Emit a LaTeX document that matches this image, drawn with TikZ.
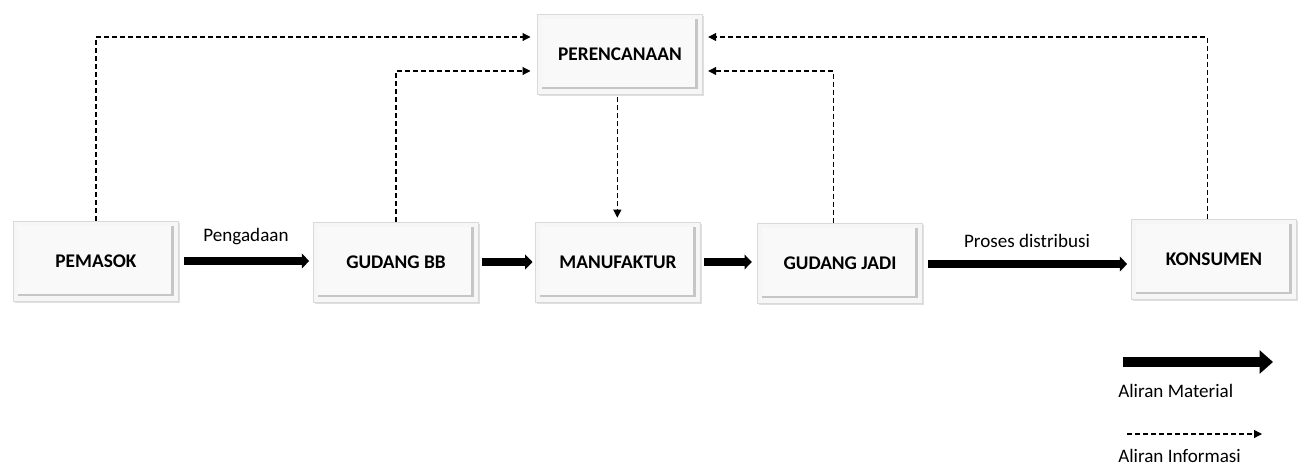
\documentclass[tikz,border=0pt]{standalone}
\usepackage{fontspec}
\setmainfont{Carlito}
\usetikzlibrary{arrows.meta,shadows,calc}
\begin{document}
\begin{tikzpicture}[x=0.75pt,y=-0.75pt,
  bx/.style={draw=gray!30, fill=gray!7, line width=0.5pt,
    minimum width=123.75pt, minimum height=60pt, inner sep=0pt,
    font=\bfseries\fontsize{14.5}{17}\selectfont,
    drop shadow={opacity=0.25, shadow xshift=1.2pt, shadow yshift=-1.5pt},
    path picture={
      \fill[gray!45] ([shift={(3.5pt,3.5pt)}]path picture bounding box.south west) rectangle ([shift={(-3.5pt,-3.5pt)}]path picture bounding box.north east);
      \fill[gray!5] ([shift={(3.5pt,5.5pt)}]path picture bounding box.south west) rectangle ([shift={(-5.5pt,-3.5pt)}]path picture bounding box.north east);
    }},
  mat/.style={line width=5.5pt, -{Triangle[length=5.5pt,width=11pt]}},
  info/.style={line width=0.8pt, dash pattern=on 3.5pt off 2.5pt, -{Triangle[length=6pt,width=6pt]}},
  lbl/.style={font=\fontsize{14.3}{17}\selectfont}]
\useasboundingbox (0,0) rectangle (1302,468);
% nodes
\node[bx] (per) at (620,54) {PERENCANAAN};
\node[bx] (pem) at (96,261) {PEMASOK};
\node[bx] (gbb) at (396,262) {GUDANG BB};
\node[bx] (man) at (618,262) {MANUFAKTUR};
\node[bx] (gj) at (840,263) {GUDANG JADI};
\node[bx] (kon) at (1214,259) {KONSUMEN};
% material flow
\draw[mat, shorten <=4pt, shorten >=3pt] (pem.east) -- node[lbl, above=6pt] {Pengadaan} (pem.east -| gbb.west);
\draw[mat, shorten <=2pt, shorten >=2pt] (gbb.east) -- (gbb.east -| man.west);
\draw[mat, shorten <=2pt, shorten >=4pt] (man.east) -- (man.east -| gj.west);
\draw[mat, shorten <=4pt, shorten >=3pt] ([yshift=-0.75pt]gj.east) -- node[lbl, above=6pt] {Proses distribusi} ([yshift=-0.75pt]gj.east -| kon.west);
% information flow
\draw[info, shorten >=5pt] (pem.north) |- ([yshift=12.75pt]per.west);
\draw[info, shorten >=5pt] (gbb.north) |- ([yshift=-12.75pt]per.west);
\draw[info, shorten >=4pt] ([xshift=-5pt]kon.north) |- ([yshift=12.75pt]per.east);
\draw[info, shorten >=4pt] ([xshift=-5pt]gj.north) |- ([yshift=-12.75pt]per.east);
\draw[info, shorten <=2pt, shorten >=3pt] ([xshift=-2pt]per.south) -- ([xshift=-2pt]per.south |- man.north);
% legend
\coordinate (lm1) at (1123,362);
\coordinate (lm2) at (1273,362);
\draw[line width=8pt, -{Triangle[length=10pt,width=17pt]}] (lm1) -- (lm2);
\node[lbl, anchor=west, inner sep=0pt] (lmt) at (1118,391) {Aliran Material};
\coordinate (li1) at (1127,434);
\coordinate (li2) at (1262,434);
\draw[info] (li1) -- (li2);
\node[lbl, anchor=west, inner sep=0pt] (lit) at (1118,456) {Aliran Informasi};
\end{tikzpicture}
\end{document}
